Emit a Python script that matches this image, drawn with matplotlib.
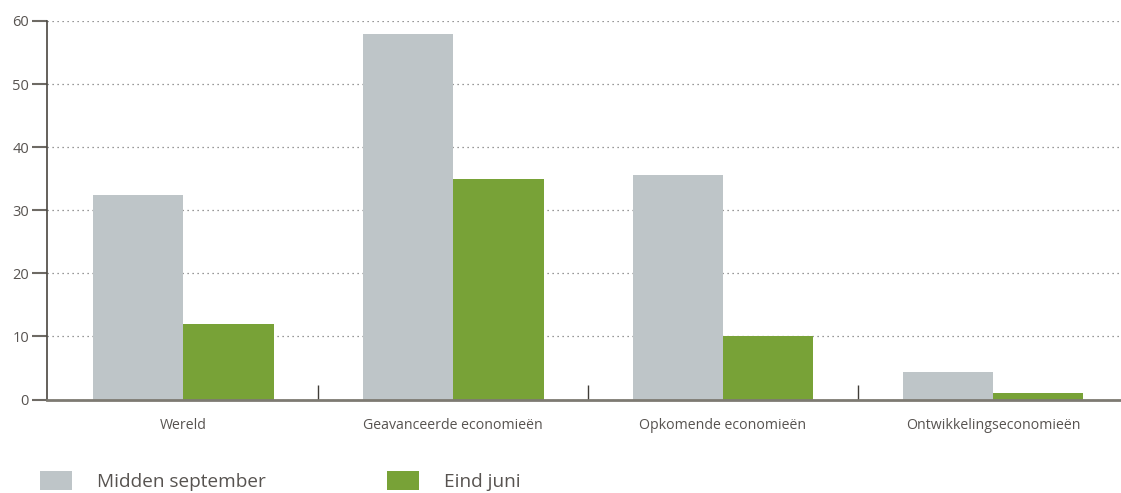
import numpy as np
import matplotlib.pyplot as plt
from matplotlib.patches import Patch

categories = ["Wereld", "Geavanceerde economieën", "Opkomende economieën", "Ontwikkelingseconomieën"]
midden_september = [32.4, 58.0, 35.6, 4.4]
eind_juni = [12.0, 35.0, 10.1, 1.0]
series_labels = ["Midden september", "Eind juni"]

GRAY = "#bec5c8"
GREEN = "#78a237"
TEXT = "#575350"
AXIS = "#6e6a64"

plt.rcParams["font.family"] = ["Open Sans", "DejaVu Sans"]

fig = plt.figure(figsize=(11.21, 4.93), dpi=100)
ax = fig.add_axes([47 / 1121, (493 - 399.5) / 493, 1 - 47 / 1121, (399.5 - 21) / 493])

x = np.arange(len(categories))
w = 0.335
ax.bar(x - w / 2, midden_september, width=w, color=GRAY, zorder=2)
ax.bar(x + w / 2, eind_juni, width=w, color=GREEN, zorder=2)

ax.set_xlim(-0.504, 3.474)
ax.set_ylim(0, 60)
ax.set_yticks(range(0, 61, 10))
ax.yaxis.grid(True, linestyle=(0, (1, 3)), color="#777777", linewidth=0.9, zorder=1)

# separator ticks between the groups
ax.set_xticks(x[:-1] + 0.5)
ax.set_xticklabels([])
ax.tick_params(axis="x", direction="in", length=11, width=1.0, color="#3f3c37")
for xi, lab in zip(x, categories):
    ax.text(xi, -2.9, lab, ha="center", va="top", fontsize=10.2, color=TEXT)

ax.tick_params(axis="y", direction="out", length=11, width=1.5, color=AXIS,
               labelsize=10.5, labelcolor=TEXT, pad=2)

for side in ["top", "right"]:
    ax.spines[side].set_visible(False)
ax.spines["left"].set_color("#4a4640")
ax.spines["left"].set_linewidth(1.2)
ax.spines["bottom"].set_color("#7d7a72")
ax.spines["bottom"].set_linewidth(2)

handles = [Patch(facecolor=GRAY), Patch(facecolor=GREEN)]
fig.legend(handles, series_labels, loc="lower left", bbox_to_anchor=(40 / 1121, 0.004),
           ncol=2, frameon=False, fontsize=13.7, labelcolor=TEXT,
           handlelength=1.7, handleheight=1.1, handletextpad=1.3,
           columnspacing=6.35, borderpad=0, borderaxespad=0)

fig.savefig("out.png", dpi=100)
